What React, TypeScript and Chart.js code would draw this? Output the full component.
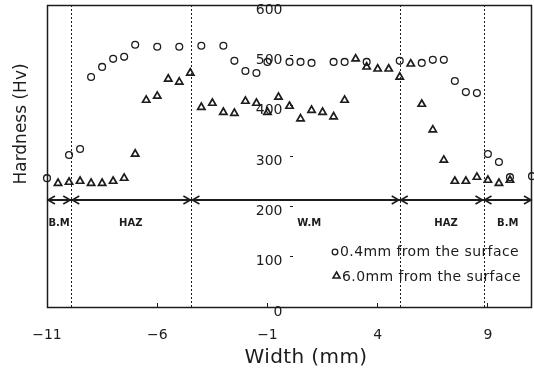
import React, { useEffect, useRef } from 'react';
import { Chart, registerables } from 'chart.js';

Chart.register(...registerables);

const FONT = "'DejaVu Sans', 'Liberation Sans', sans-serif";
const INK = '#1c1c1c';

// axis ticks
const xTickValues = [-11, -6, -1, 4, 9];
const xTickLabels = ['\u221211', '\u22126', '\u22121', '4', '9'];
const xMin = -11;
const xMax = 11;
const yMin = 0;
const yMax = 600;
const yStep = 100;

// series: 0.4 mm from the surface (open circles)
const surface04X = [-11, -10, -9.5, -9, -8.5, -8, -7.5, -7, -6, -5, -4, -3, -2.5, -2, -1.5, -1, 0, 0.5, 1, 2, 2.5, 3.5, 5, 6, 6.5, 7, 7.5, 8, 8.5, 9, 9.5, 10, 11];
const surface04Y = [256, 302, 314, 457, 477, 493, 497, 521, 517, 517, 519, 519, 489, 469, 465, 487, 487, 487, 485, 487, 487, 487, 489, 485, 491, 491, 449, 427, 425, 304, 288, 258, 260];

// series: 6.0 mm from the surface (open triangles)
const surface60X = [-10.5, -10, -9.5, -9, -8.5, -8, -7.5, -7, -6.5, -6, -5.5, -5, -4.5, -4, -3.5, -3, -2.5, -2, -1.5, -1, -0.5, 0, 0.5, 1, 1.5, 2, 2.5, 3, 3.5, 4, 4.5, 5, 5.5, 6, 6.5, 7, 7.5, 8, 8.5, 9, 9.5, 10];
const surface60Y = [246, 248, 250, 246, 246, 250, 256, 304, 411, 419, 453, 447, 465, 397, 405, 387, 385, 409, 405, 387, 417, 399, 374, 391, 387, 378, 411, 493, 477, 473, 473, 457, 483, 403, 352, 292, 250, 250, 258, 252, 246, 252];

const seriesLabels = ['0.4mm from the surface', '6.0mm from the surface'];

// zones across the weld
const zoneBounds = [-11, -9.9, -4.45, 5, 8.8, 11];
const zoneNames = ['B.M', 'HAZ', 'W.M', 'HAZ', 'B.M'];
const zoneLabelX = [-10.45, -7.2, 0.9, 7.1, 9.9];
const arrowLevel = 213;
const zoneLabelLevel = 167;

const xTitle = 'Width (mm)';
const yTitle = 'Hardness (Hv)';

function drawCircle(ctx: CanvasRenderingContext2D, cx: number, cy: number, r: number, lw: number) {
  ctx.beginPath();
  ctx.lineWidth = lw;
  ctx.arc(cx, cy, r, 0, Math.PI * 2);
  ctx.stroke();
}

function drawTriangle(ctx: CanvasRenderingContext2D, cx: number, cy: number, r: number, lw: number) {
  ctx.beginPath();
  ctx.lineWidth = lw;
  for (let i = 0; i < 3; i++) {
    const a = -Math.PI / 2 + (i * 2 * Math.PI) / 3;
    const px = cx + Math.cos(a) * r;
    const py = cy + Math.sin(a) * r;
    if (i === 0) ctx.moveTo(px, py);
    else ctx.lineTo(px, py);
  }
  ctx.closePath();
  ctx.stroke();
}

const decorPlugin = {
  id: 'decor',
  afterDraw(chart: any) {
    const { ctx, chartArea: ca, scales } = chart;
    const xs = scales.x;
    const ys = scales.y;
    ctx.save();
    ctx.strokeStyle = INK;
    ctx.fillStyle = INK;

    // frame
    ctx.lineWidth = 1.5;
    ctx.strokeRect(ca.left + 0.5, ca.top + 0.5, ca.right - ca.left - 1, ca.bottom - ca.top);

    // dotted zone boundaries
    ctx.lineWidth = 1;
    ctx.setLineDash([2, 2]);
    for (let i = 1; i < zoneBounds.length - 1; i++) {
      const px = Math.round(xs.getPixelForValue(zoneBounds[i])) + 0.5;
      ctx.beginPath();
      ctx.moveTo(px, ca.top);
      ctx.lineTo(px, ca.bottom);
      ctx.stroke();
    }
    ctx.setLineDash([]);

    // arrow line
    const ay = Math.round(ys.getPixelForValue(arrowLevel));
    const x0 = xs.getPixelForValue(zoneBounds[0]);
    const x1 = xs.getPixelForValue(zoneBounds[zoneBounds.length - 1]);
    ctx.lineWidth = 2;
    ctx.beginPath();
    ctx.moveTo(x0, ay);
    ctx.lineTo(x1, ay);
    ctx.stroke();
    ctx.lineWidth = 1.6;
    for (let i = 0; i < zoneBounds.length - 1; i++) {
      const a = xs.getPixelForValue(zoneBounds[i]) + 1;
      const b = xs.getPixelForValue(zoneBounds[i + 1]) - 1;
      ctx.beginPath();
      ctx.moveTo(a + 7, ay - 4);
      ctx.lineTo(a, ay);
      ctx.lineTo(a + 7, ay + 4);
      ctx.moveTo(b - 7, ay - 4);
      ctx.lineTo(b, ay);
      ctx.lineTo(b - 7, ay + 4);
      ctx.stroke();
    }

    // zone labels
    ctx.font = `bold 10px ${FONT}`;
    ctx.textAlign = 'center';
    ctx.textBaseline = 'middle';
    const ly = ys.getPixelForValue(zoneLabelLevel);
    zoneNames.forEach((n, i) => {
      ctx.fillText(n, xs.getPixelForValue(zoneLabelX[i]), ly);
    });

    // legend
    const ds = chart.data.datasets;
    ctx.font = `14px ${FONT}`;
    ctx.textAlign = 'left';
    (ctx as any).letterSpacing = '0.4px';
    drawCircle(ctx, 335, 252, 2.8, 1.3);
    ctx.fillText(ds[0].label, 340, 252);
    drawTriangle(ctx, 336.5, 276, 4, 1.6);
    ctx.fillText(ds[1].label, 342, 277);

    // axis titles
    ctx.font = `20px ${FONT}`;
    ctx.textAlign = 'center';
    ctx.fillText(xTitle, 306, 358);
    (ctx as any).letterSpacing = '0px';
    ctx.font = `17px ${FONT}`;
    ctx.translate(22, 124);
    ctx.rotate(-Math.PI / 2);
    ctx.fillText(yTitle, 0, 0);
    ctx.restore();
  },
};

export default function App() {
  const canvasRef = useRef<HTMLCanvasElement | null>(null);

  useEffect(() => {
    const canvas = canvasRef.current;
    if (!canvas) return;
    const chart = new Chart(canvas, {
      type: 'scatter',
      data: {
        datasets: [
          {
            label: seriesLabels[0],
            data: surface04X.map((x, i) => ({ x, y: surface04Y[i] })),
            pointStyle: 'circle',
            pointRadius: 3.4,
            pointBorderWidth: 1.3,
            borderColor: INK,
            backgroundColor: 'rgba(0,0,0,0)',
            pointBackgroundColor: 'rgba(0,0,0,0)',
            pointBorderColor: INK,
            showLine: false,
            clip: false,
          },
          {
            label: seriesLabels[1],
            data: surface60X.map((x, i) => ({ x, y: surface60Y[i] })),
            pointStyle: 'triangle',
            pointRadius: 4.2,
            pointBorderWidth: 1.7,
            borderColor: INK,
            backgroundColor: 'rgba(0,0,0,0)',
            pointBackgroundColor: 'rgba(0,0,0,0)',
            pointBorderColor: INK,
            showLine: false,
            clip: false,
          },
        ],
      },
      options: {
        animation: false,
        responsive: false,
        devicePixelRatio: 1,
        layout: { padding: { left: 47, right: 2, top: 5, bottom: 0 }, autoPadding: false },
        plugins: { legend: { display: false }, tooltip: { enabled: false } },
        events: [],
        scales: {
          x: {
            type: 'linear',
            min: xMin,
            max: xMax,
            afterBuildTicks: (s: any) => {
              s.ticks = xTickValues.map((v) => ({ value: v }));
            },
            afterFit: (s: any) => {
              s.height = 71;
              s.paddingLeft = 0;
              s.paddingRight = 0;
            },
            grid: { display: true, drawOnChartArea: false, drawTicks: true, tickLength: -4, color: INK },
            border: { display: false },
            ticks: {
              padding: 24,
              color: INK,
              font: { family: FONT, size: 14 },
              autoSkip: false,
              maxRotation: 0,
              callback: (_v: any, i: number) => xTickLabels[i],
            },
          },
          y: {
            type: 'linear',
            position: 'center',
            min: yMin,
            max: yMax,
            afterFit: (s: any) => {
              s.paddingTop = 0;
              s.paddingBottom = 0;
            },
            grid: { display: true, drawOnChartArea: false, drawTicks: true, tickLength: -3, color: INK },
            border: { display: false },
            ticks: {
              stepSize: yStep,
              padding: 10,
              labelOffset: 5,
              color: INK,
              font: { family: FONT, size: 14 },
            },
          },
        },
      },
      plugins: [decorPlugin],
    } as any);
    return () => chart.destroy();
  }, []);

  return (
    <div style={{ position: 'fixed', left: 0, top: 0, width: 534, height: 378, background: '#fff' }}>
      <canvas ref={canvasRef} width={534} height={378} style={{ display: 'block', width: 534, height: 378 }} />
    </div>
  );
}
